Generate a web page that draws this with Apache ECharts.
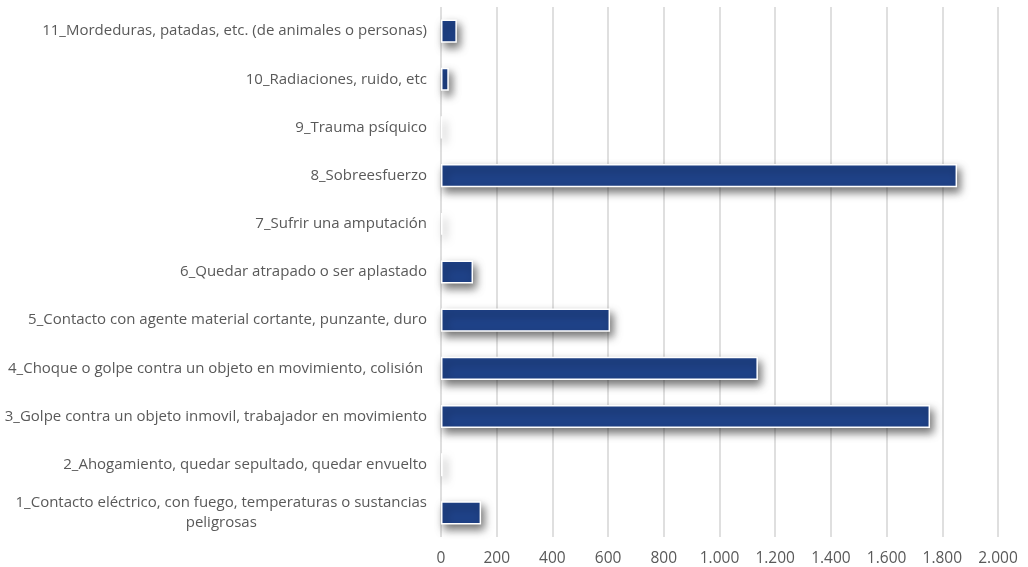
<!DOCTYPE html>
<html>
<head>
<meta charset="utf-8">
<script src="https://cdn.jsdelivr.net/npm/echarts@6/dist/echarts.min.js"></script>
<style>html,body{margin:0;padding:0;background:#fff}#c{width:1028px;height:567px}</style>
</head>
<body>
<div id="c"></div>
<script>
const categories = [
  "1_Contacto eléctrico, con fuego, temperaturas o sustancias\npeligrosas",
  "2_Ahogamiento, quedar sepultado, quedar envuelto",
  "3_Golpe contra un objeto inmovil, trabajador en movimiento",
  "4_Choque o golpe contra un objeto en movimiento, colisión ",
  "5_Contacto con agente material cortante, punzante, duro",
  "6_Quedar atrapado o ser aplastado",
  "7_Sufrir una amputación",
  "8_Sobreesfuerzo",
  "9_Trauma psíquico",
  "10_Radiaciones, ruido, etc",
  "11_Mordeduras, patadas, etc. (de animales o personas)"
];
const values = [144, 6, 1756, 1138, 607, 115, 5, 1853, 3, 28, 57];
const xTicks = { min: 0, max: 2000, interval: 200 };

const chart = echarts.init(document.getElementById('c'), null, { renderer: 'canvas' });
chart.setOption({
  animation: false,
  backgroundColor: '#ffffff',
  grid: { left: 441, right: 30, top: 7, bottom: 30, containLabel: false },
  xAxis: {
    type: 'value', min: xTicks.min, max: xTicks.max, interval: xTicks.interval,
    axisLine: { show: false }, axisTick: { show: false },
    splitLine: { show: true, lineStyle: { color: '#d4d4d4', width: 1.5 } },
    axisLabel: {
      color: '#595959', fontSize: 15.5, fontFamily: 'Open Sans', margin: 14,
      formatter: v => v.toLocaleString('de-DE')
    }
  },
  yAxis: {
    type: 'category', data: categories,
    axisLine: { show: false }, axisTick: { show: false },
    axisLabel: {
      color: '#595959', fontSize: 15, fontFamily: 'Open Sans', margin: 14, align: 'right', lineHeight: 20,
      formatter: v => v.split('\n').map(s => '{c|' + s + '}').join('\n'),
      rich: { c: { align: 'center', color: '#595959', fontSize: 15, fontFamily: 'Open Sans', lineHeight: 20 } }
    }
  },
  series: [{
    type: 'bar', data: values, barWidth: '48%',
    itemStyle: {
      color: '#1F4288', borderColor: '#ffffff', borderWidth: 1.5,
      shadowColor: 'rgba(0,0,0,0.55)', shadowBlur: 8, shadowOffsetX: 3, shadowOffsetY: 5
    }
  }]
});
</script>
</body>
</html>
